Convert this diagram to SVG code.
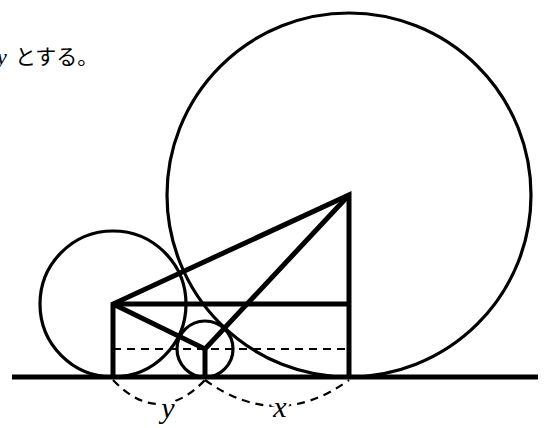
<svg xmlns="http://www.w3.org/2000/svg" width="544" height="428" viewBox="0 0 544 428">
<style>
.c{fill:none;stroke:#000;stroke-width:3.2}
.t{fill:none;stroke:#000;stroke-width:5;stroke-linecap:butt;stroke-linejoin:miter}
.d{fill:none;stroke:#000;stroke-width:2.2;stroke-dasharray:8 6}
.jp{font-family:"Liberation Serif","Noto Sans CJK JP",serif;font-size:21px;fill:#000}
.v{font-family:"Liberation Serif",serif;font-style:italic;font-size:30px;fill:#000;stroke:#fff;stroke-width:6;paint-order:stroke;text-anchor:middle}
</style>
<rect width="544" height="428" fill="#fff"/>
<text class="jp" x="-3" y="64"><tspan font-style="italic" font-size="22">y</tspan><tspan x="15">とする。</tspan></text>
<g id="circle-large"><circle class="c" cx="349" cy="195" r="182"/></g>
<g id="circle-medium"><circle class="c" cx="113" cy="304" r="73"/></g>
<g id="circle-small"><circle class="c" cx="205" cy="349" r="28"/></g>
<g id="connectors">
<line class="t" x1="12" y1="377" x2="538" y2="377"/>
<line class="d" x1="113" y1="349" x2="349" y2="349"/>
<polyline class="t" points="113,377 113,304 349,195 349,377"/>
<line class="t" x1="113" y1="304" x2="349" y2="304"/>
<polyline class="t" points="113,304 205,349 349,195"/>
<line class="t" x1="205" y1="349" x2="205" y2="377"/>
<path class="d" d="M113,380 Q159,428 205,380"/>
<path class="d" d="M205,380 Q277,432 349,380"/>
</g>
<g id="label-y"><text class="v" x="168" y="418">y</text></g>
<g id="label-x"><text class="v" x="280" y="417">x</text></g>
</svg>
